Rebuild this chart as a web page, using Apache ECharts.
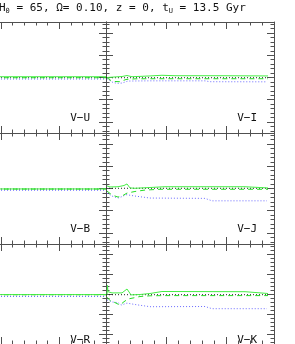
<!DOCTYPE html>
<html><head><meta charset="utf-8">
<script src="https://cdn.jsdelivr.net/npm/echarts@6/dist/echarts.min.js"></script>
<style>html,body{margin:0;padding:0;background:#fff}#c{width:295px;height:344px}</style>
</head><body><div id="c"></div>
<script>
// ---------- data ----------
const panelNames = ['V\u2212U', 'V\u2212I', 'V\u2212B', 'V\u2212J', 'V\u2212R', 'V\u2212K'];
// left-column panels: flat curves
const leftX = [0.9, 2.8];
const vuSolid = [0.007, 0.007], vuDashed = [-0.002, -0.002], vuBlack = [-0.002, -0.002], vuBlue = [-0.014, -0.014];
const vbSolid = [-0.004, -0.004], vbDashed = [-0.005, -0.005], vbBlack = [-0.005, -0.005], vbBlue = [-0.016, -0.016];
const vrSolid = [-0.006, -0.006], vrDashed = [-0.007, -0.007], vrBlack = [-0.007, -0.007], vrBlue = [-0.025, -0.025];
// right-column panels
const blackX = [0, 2.7];
// V-I
const viSolidX = [0.017, 0.15, 0.267, 0.35, 0.433, 0.733, 0.933, 1.15, 1.9, 2.7];
const viSolidY = [0, 0.005, 0.009, 0.018, 0.007, 0.014, 0.02, 0.016, 0.016, 0.014];
const viDashX = [0.017, 0.067, 0.133, 0.233, 0.333, 0.483, 0.733, 2.7];
const viDashY = [0, -0.023, -0.036, -0.038, -0.018, -0.012, -0.011, -0.011];
const viBlack = [-0.002, -0.002];
const viBlueX = [0.017, 0.1, 0.183, 0.267, 0.367, 0.733, 1.65, 1.733, 2.683];
const viBlueY = [-0.009, -0.041, -0.053, -0.05, -0.032, -0.03, -0.03, -0.038, -0.039];
// V-J
const vjSolidX = [0.017, 0.067, 0.2, 0.3, 0.35, 0.4, 0.483, 0.733, 0.983, 2.317, 2.7];
const vjSolidY = [0.023, 0.014, 0.016, 0.027, 0.041, 0.005, 0.002, 0.009, 0.016, 0.016, 0.005];
const vjDashX = [0.017, 0.1, 0.2, 0.267, 0.35, 0.483, 0.65, 0.9, 2.7];
const vjDashY = [-0.023, -0.059, -0.077, -0.068, -0.041, -0.027, -0.014, -0.007, -0.007];
const vjBlack = [0.002, 0.002];
const vjBlueX = [0.017, 0.1, 0.2, 0.267, 0.333, 0.483, 0.733, 1.65, 1.767, 2.683];
const vjBlueY = [-0.041, -0.068, -0.086, -0.073, -0.055, -0.068, -0.086, -0.089, -0.111, -0.111];
// V-K
const vkSolidX = [0.017, 0.025, 0.033, 0.1, 0.267, 0.35, 0.417, 0.567, 0.733, 0.933, 2.317, 2.7];
const vkSolidY = [-0.005, 0.086, 0.023, 0.011, 0.011, 0.05, -0.009, -0.005, 0.005, 0.025, 0.023, 0.005];
const vkDashX = [0.017, 0.067, 0.15, 0.233, 0.3, 0.367, 0.483, 0.567, 0.733, 0.983, 2.7];
const vkDashY = [-0.032, -0.065, -0.086, -0.111, -0.077, -0.05, -0.036, -0.025, -0.018, -0.016, -0.016];
const vkBlack = [-0.007, -0.007];
const vkBlueX = [0.017, 0.1, 0.2, 0.25, 0.35, 0.483, 0.733, 1.65, 1.767, 2.683];
const vkBlueY = [-0.059, -0.08, -0.086, -0.111, -0.091, -0.105, -0.127, -0.125, -0.147, -0.147];

const xMajor = [0, 1, 2];
const xMinor = [0, 0.2, 0.4, 0.6, 0.8, 1, 1.2, 1.4, 1.6, 1.8, 2, 2.2, 2.4, 2.6, 2.8];
const yMajor = [-0.4, -0.2, 0, 0.2, 0.4];
const yMinor = [-0.48, -0.44, -0.4, -0.36, -0.32, -0.28, -0.24, -0.2, -0.16, -0.12, -0.08, -0.04, 0,
                0.04, 0.08, 0.12, 0.16, 0.2, 0.24, 0.28, 0.32, 0.36, 0.4, 0.44, 0.48];

// ---------- build ----------
const zip = (xs, ys) => xs.map((x, i) => [x, ys[i]]);
const panels = [
  {col: 0, row: 0, s: zip(leftX, vuSolid), d: zip(leftX, vuDashed), k: zip(leftX, vuBlack), b: zip(leftX, vuBlue)},
  {col: 1, row: 0, s: zip(viSolidX, viSolidY), d: zip(viDashX, viDashY), k: zip(blackX, viBlack), b: zip(viBlueX, viBlueY)},
  {col: 0, row: 1, s: zip(leftX, vbSolid), d: zip(leftX, vbDashed), k: zip(leftX, vbBlack), b: zip(leftX, vbBlue)},
  {col: 1, row: 1, s: zip(vjSolidX, vjSolidY), d: zip(vjDashX, vjDashY), k: zip(blackX, vjBlack), b: zip(vjBlueX, vjBlueY)},
  {col: 0, row: 2, s: zip(leftX, vrSolid), d: zip(leftX, vrDashed), k: zip(leftX, vrBlack), b: zip(leftX, vrBlue)},
  {col: 1, row: 2, s: zip(vkSolidX, vkSolidY), d: zip(vkDashX, vkDashY), k: zip(blackX, vkBlack), b: zip(vkBlueX, vkBlueY)}
];
const AX = '#505050';
const grids = [], xAxes = [], yAxes = [], series = [], titles = [];
const TF = 'DejaVu Sans Mono';
titles.push({
  left: -1, top: 2, padding: 0,
  text: '{a|H}{s|0}{a| = 65, \u03A9= 0.10, z = 0, t}{s|U}{a| = 13.5 Gyr}',
  textStyle: {fontWeight: 'normal', rich: {
    a: {fontFamily: TF, fontSize: 11, fontWeight: 'normal', color: '#111', lineHeight: 13},
    s: {fontFamily: TF, fontSize: 7, fontWeight: 'normal', color: '#111', padding: [6, 0, 0, 0], lineHeight: 13}
  }}
});
panels.forEach((p, i) => {
  const left = p.col === 0 ? 0 : 106;
  const width = p.col === 0 ? 106 : 168;
  const xmin = p.col === 0 ? 0.985 : 0;
  const top = 22 + p.row * 111;
  grids.push({left: left, top: top, width: width, height: 111, containLabel: false});
  const xa = (pos, vals, len, show) => ({
    gridIndex: i, type: 'value', min: xmin, max: 2.8, position: pos,
    axisLine: {show: show, onZero: false, lineStyle: {color: AX, width: 1}},
    axisTick: {show: true, inside: true, length: len, customValues: vals.filter(v => v >= xmin), lineStyle: {color: AX, width: 1}},
    axisLabel: {show: false}, splitLine: {show: false}
  });
  const ya = (pos, vals, len, show, tick) => ({
    gridIndex: i, type: 'value', min: -0.5, max: 0.5, position: pos,
    axisLine: {show: show, onZero: false, lineStyle: {color: AX, width: 1}},
    axisTick: {show: tick, inside: true, length: len, customValues: vals, lineStyle: {color: AX, width: 1}},
    axisLabel: {show: false}, splitLine: {show: false}
  });
  const xi = xAxes.length, yi = yAxes.length;
  const lt = p.col !== 0;
  xAxes.push(xa('bottom', xMajor, 7, true), xa('bottom', xMinor, 3.5, false), xa('top', xMajor, 7, true), xa('top', xMinor, 3.5, false));
  yAxes.push(ya('left', yMajor, 7, lt, lt), ya('left', yMinor, 3.5, false, lt), ya('right', yMajor, 7, true, true), ya('right', yMinor, 3.5, false, true));
  const mk = (data, color, type, w, z) => ({
    type: 'line', xAxisIndex: xi, yAxisIndex: yi, data: data, showSymbol: false, symbol: 'none',
    lineStyle: {color: color, type: type, width: w}, z: z, silent: true, animation: false, clip: true
  });
  series.push(mk(p.k, '#222', [1, 2], 1, 2));
  series.push(mk(p.b, '#6a6aff', [1, 2], 1, 3));
  series.push(mk(p.d, '#22dd22', [5, 4], 1, 4));
  series.push(mk(p.s, '#44ee44', 'solid', 1, 5));
  const lx = p.col === 0 ? 90 : 257;
  titles.push({
    text: panelNames[i], right: 295 - lx, top: top + 91, padding: 0,
    textStyle: {fontFamily: TF, fontSize: 11, fontWeight: 'normal', color: '#111'}
  });
});
const chart = echarts.init(document.getElementById('c'), null, {renderer: 'canvas'});
chart.setOption({animation: false, title: titles, grid: grids, xAxis: xAxes, yAxis: yAxes, series: series});
</script></body></html>
